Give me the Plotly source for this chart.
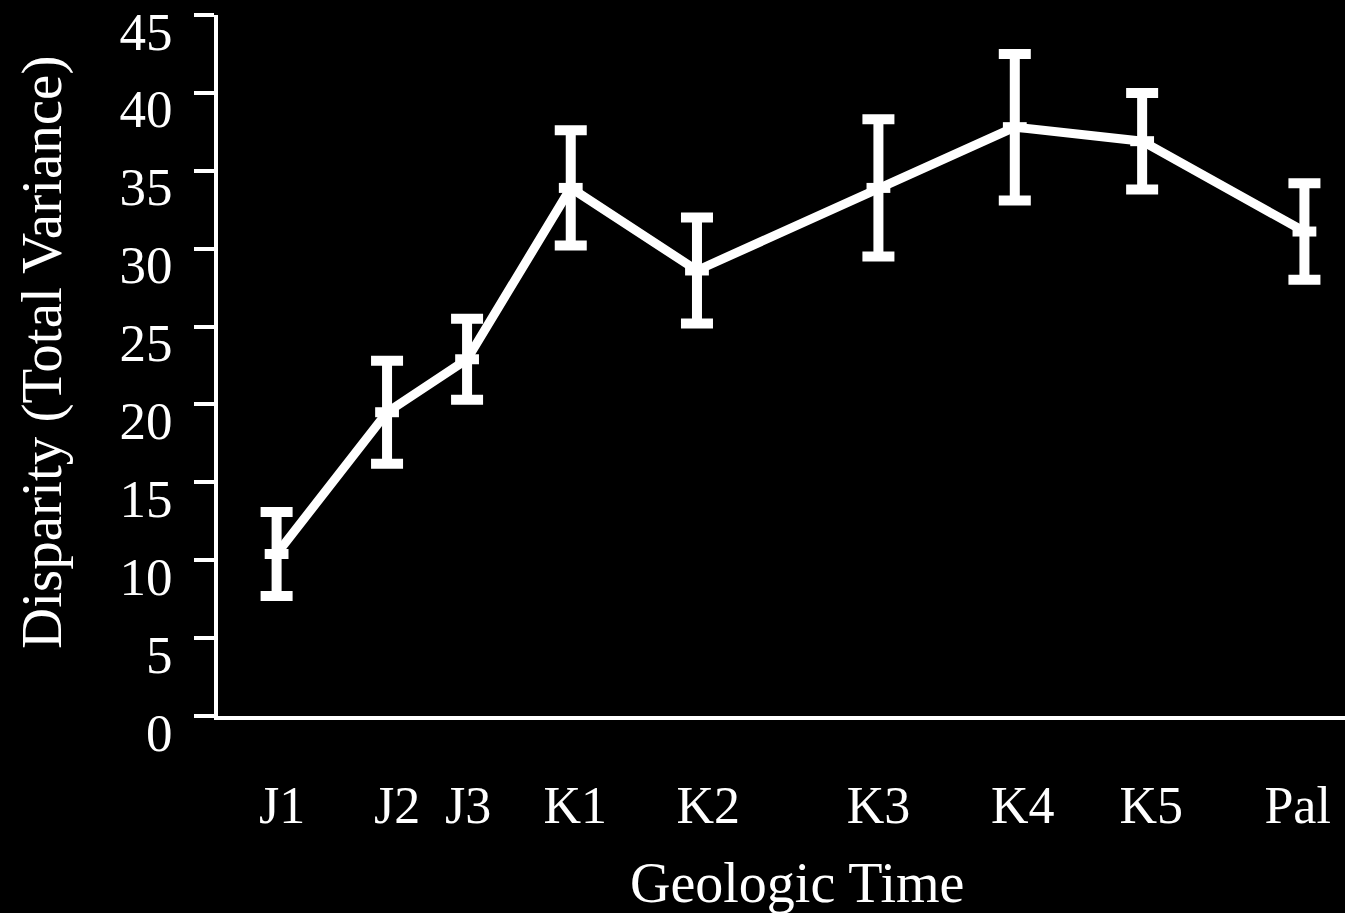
import plotly.graph_objects as go

# Time bins and where each sits along the (non-uniform) time axis
periods = ["J1", "J2", "J3", "K1", "K2", "K3", "K4", "K5", "Pal"]
time_pos = [5.2, 15.0, 22.1, 31.3, 42.5, 58.6, 70.7, 82.0, 96.4]
label_pos = [5.7, 15.9, 22.2, 31.7, 43.5, 58.6, 71.4, 82.8, 95.8]

# Disparity (total variance) and its error
disparity = [10.4, 19.5, 22.9, 33.9, 28.6, 33.9, 37.8, 36.9, 31.1]
disparity_err = [2.7, 3.3, 2.6, 3.7, 3.4, 4.4, 4.7, 3.1, 3.1]

y_ticks = [0, 5, 10, 15, 20, 25, 30, 35, 40, 45]

FONT = "Liberation Serif, Times New Roman, serif"

fig = go.Figure()
fig.add_trace(go.Scatter(
    x=time_pos,
    y=disparity,
    mode="lines+markers",
    line=dict(color="white", width=9),
    marker=dict(symbol="line-ew", size=17, color="white",
                line=dict(color="white", width=10)),
    error_y=dict(type="data", array=disparity_err, visible=True,
                 color="white", thickness=10, width=16),
    showlegend=False,
))

# axis titles
fig.add_annotation(
    text="Geologic Time",
    xref="paper", yref="paper",
    x=0.514, y=0,
    xanchor="center", yanchor="top",
    yshift=-134,
    showarrow=False,
    font=dict(family=FONT, size=56, color="white"),
)
fig.add_annotation(
    text="Disparity (Total Variance)",
    xref="paper", yref="paper",
    x=0, y=0.518,
    xanchor="center", yanchor="middle",
    xshift=-176,
    textangle=-90,
    showarrow=False,
    font=dict(family=FONT, size=57, color="white"),
)

fig.update_layout(
    width=1345,
    height=913,
    paper_bgcolor="black",
    plot_bgcolor="black",
    margin=dict(l=218, r=0, t=15, b=197),
    font=dict(family=FONT, color="white"),
    xaxis=dict(
        range=[0, 100],
        showgrid=False,
        zeroline=False,
        showline=True,
        linecolor="white",
        linewidth=4,
        ticks="",
        tickmode="array",
        tickvals=label_pos,
        ticktext=periods,
        tickfont=dict(family=FONT, size=52, color="white"),
        ticklabelstandoff=41,
    ),
    yaxis=dict(
        range=[0, 45],
        showgrid=False,
        zeroline=False,
        showline=True,
        linecolor="white",
        linewidth=4,
        ticks="outside",
        ticklen=20,
        tickwidth=4,
        tickcolor="white",
        tickmode="array",
        tickvals=y_ticks,
        ticktext=[str(v) for v in y_ticks],
        tickfont=dict(family=FONT, size=53, color="white"),
        ticklabelshift=16,
        ticklabelstandoff=11,
    ),
)

fig.write_html("out.html")
